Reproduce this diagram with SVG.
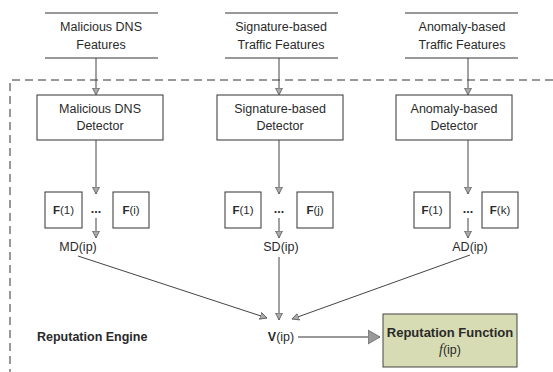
<svg xmlns="http://www.w3.org/2000/svg" width="553" height="372" viewBox="0 0 553 372">
<style>
text{font-family:"Liberation Sans",Arial,sans-serif;font-size:12.5px;fill:#2a2a2a;text-anchor:middle}
.b{font-weight:bold}
.sm{font-size:11.5px}
.ln{stroke:#333;stroke-width:1;fill:none}
.box{fill:#fff;stroke:#333;stroke-width:1}
.ar{stroke:#444;stroke-width:1;fill:none;marker-end:url(#ah)}
</style>
<defs>
<marker id="ah" markerWidth="8" markerHeight="8" refX="7" refY="4" orient="auto" markerUnits="userSpaceOnUse">
<path d="M0,0.5 L7,4 L0,7.5 Z" fill="#aaa" stroke="#555" stroke-width="0.8"/>
</marker>
<marker id="big" markerWidth="14" markerHeight="16" refX="12" refY="8" orient="auto" markerUnits="userSpaceOnUse">
<path d="M0,1 L12,8 L0,15 Z" fill="#999" stroke="#666" stroke-width="0.8"/>
</marker>
</defs>
<rect x="0" y="0" width="553" height="372" fill="#fff"/>
<path d="M553,80 H10 V372" stroke="#333" stroke-width="1" stroke-dasharray="8,5" fill="none"/>

<g id="feat-md"><line class="ln" x1="45" y1="13" x2="158" y2="13"/><line class="ln" x1="45" y1="58" x2="158" y2="58"/><text x="101" y="31">Malicious DNS</text><text x="101" y="49">Features</text></g>
<g id="feat-sd"><line class="ln" x1="225" y1="13" x2="338" y2="13"/><line class="ln" x1="225" y1="58" x2="338" y2="58"/><text x="281" y="31">Signature-based</text><text x="281" y="49">Traffic Features</text></g>
<g id="feat-ad"><line class="ln" x1="405" y1="13" x2="518" y2="13"/><line class="ln" x1="405" y1="58" x2="518" y2="58"/><text x="462" y="31">Anomaly-based</text><text x="462" y="49">Traffic Features</text></g>

<g id="det-md"><rect class="box" x="37" y="95" width="126" height="45"/><text x="100" y="113">Malicious DNS</text><text x="100" y="130">Detector</text></g>
<g id="det-sd"><rect class="box" x="217" y="95" width="126" height="45"/><text x="280" y="113">Signature-based</text><text x="280" y="130">Detector</text></g>
<g id="det-ad"><rect class="box" x="396" y="95" width="116" height="45"/><text x="454" y="113">Anomaly-based</text><text x="454" y="130">Detector</text></g>

<g id="f-md-1"><rect class="box" x="45" y="192" width="37" height="36"/><text class="sm" x="63.5" y="214"><tspan class="b">F</tspan>(1)</text></g>
<g id="f-md-i"><rect class="box" x="113" y="192" width="36" height="36"/><text class="sm" x="131" y="214"><tspan class="b">F</tspan>(i)</text></g>
<g id="f-sd-1"><rect class="box" x="225" y="192" width="36" height="36"/><text class="sm" x="243" y="214"><tspan class="b">F</tspan>(1)</text></g>
<g id="f-sd-j"><rect class="box" x="297" y="192" width="36" height="36"/><text class="sm" x="315" y="214"><tspan class="b">F</tspan>(j)</text></g>
<g id="f-ad-1"><rect class="box" x="414" y="192" width="36" height="36"/><text class="sm" x="432" y="214"><tspan class="b">F</tspan>(1)</text></g>
<g id="f-ad-k"><rect class="box" x="482" y="192" width="36" height="36"/><text class="sm" x="500" y="214"><tspan class="b">F</tspan>(k)</text></g>

<g id="dots"><text class="b" x="96" y="213">...</text><text class="b" x="279" y="213">...</text><text class="b" x="468" y="213">...</text></g>

<g id="md"><text x="78" y="251">MD(ip)</text></g>
<g id="sd"><text x="281" y="251">SD(ip)</text></g>
<g id="ad"><text x="470" y="251">AD(ip)</text></g>

<g id="v"><text x="281" y="341"><tspan class="b">V</tspan>(ip)</text></g>
<g id="engine"><text class="b" x="37" y="341" style="text-anchor:start">Reputation Engine</text></g>
<g id="repfunc"><rect x="383" y="314" width="134" height="53" fill="#d8dcb4" stroke="#444" stroke-width="1"/><text class="b" x="450" y="337" style="font-size:13px">Reputation Function</text><text x="450" y="354"><tspan font-family="Liberation Serif,serif" font-style="italic" font-size="14">f</tspan>(ip)</text></g>

<g id="connectors">
<line class="ar" x1="96" y1="58" x2="96" y2="95"/>
<line class="ar" x1="279" y1="58" x2="279" y2="95"/>
<line class="ar" x1="468" y1="58" x2="468" y2="95"/>
<line class="ar" x1="96" y1="140" x2="96" y2="194"/>
<line class="ar" x1="279" y1="140" x2="279" y2="194"/>
<line class="ar" x1="468" y1="140" x2="468" y2="194"/>
<line class="ar" x1="96" y1="218" x2="96" y2="238"/>
<line class="ar" x1="279" y1="218" x2="279" y2="238"/>
<line class="ar" x1="468" y1="218" x2="468" y2="238"/>
<line class="ar" x1="78" y1="256" x2="267" y2="318"/>
<line class="ar" x1="279" y1="257" x2="279" y2="320"/>
<line class="ar" x1="470" y1="255" x2="292" y2="319"/>
<line x1="298" y1="337" x2="380" y2="337" stroke="#333" stroke-width="1" marker-end="url(#big)"/>
</g>
</svg>
